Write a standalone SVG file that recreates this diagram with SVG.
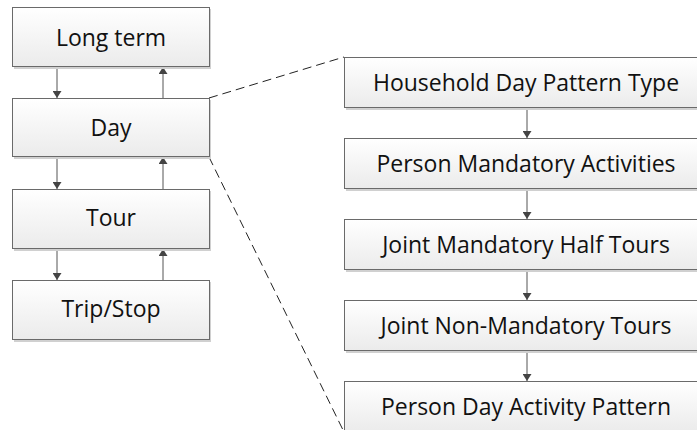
<svg xmlns="http://www.w3.org/2000/svg" width="697" height="430" viewBox="0 0 697 430">
<defs>
<linearGradient id="g" x1="0" y1="0" x2="0" y2="1">
<stop offset="0" stop-color="#ffffff"/>
<stop offset="1" stop-color="#ebebeb"/>
</linearGradient>
<marker id="ah" markerWidth="7" markerHeight="9" refX="7" refY="4.5" orient="auto" markerUnits="userSpaceOnUse" viewBox="0 0 7 9">
<path d="M0,0 L7,4.5 L0,9 Z" fill="#444"/>
</marker>
</defs>
<style>
.box{fill:url(#g);stroke:#6a6a6a;stroke-width:1}
.sh{fill:#d0d0d0}
.t{font-family:"Open Sans","Liberation Sans",sans-serif;font-size:23px;fill:#111;text-anchor:middle}
.a{stroke:#555;stroke-width:1;fill:none;marker-end:url(#ah)}
.d{stroke:#222;stroke-width:1;fill:none;stroke-dasharray:9 5}
</style>
<g id="connectors">
<line class="a" x1="57" y1="67" x2="57" y2="98"/>
<line class="a" x1="163" y1="98" x2="163" y2="67"/>
<line class="a" x1="57" y1="157" x2="57" y2="189"/>
<line class="a" x1="163" y1="189" x2="163" y2="157"/>
<line class="a" x1="57" y1="249" x2="57" y2="280"/>
<line class="a" x1="163" y1="280" x2="163" y2="249"/>
<line class="a" x1="527" y1="108" x2="527" y2="138"/>
<line class="a" x1="527" y1="189" x2="527" y2="219"/>
<line class="a" x1="527" y1="270" x2="527" y2="300"/>
<line class="a" x1="527" y1="351" x2="527" y2="381"/>
<line class="d" x1="209" y1="98" x2="344" y2="57"/>
<line class="d" x1="209" y1="157" x2="344" y2="432"/>
</g>
<g id="long-term"><rect class="sh" x="14" y="9" width="197" height="60"/><rect class="box" x="12.5" y="7.5" width="197" height="59"/><text class="t" x="111" y="46">Long term</text></g>
<g id="day"><rect class="sh" x="14" y="100" width="197" height="59"/><rect class="box" x="12.5" y="98.5" width="197" height="58"/><text class="t" x="111" y="136">Day</text></g>
<g id="tour"><rect class="sh" x="14" y="191" width="197" height="60"/><rect class="box" x="12.5" y="189.5" width="197" height="59"/><text class="t" x="111" y="226">Tour</text></g>
<g id="trip-stop"><rect class="sh" x="14" y="282" width="197" height="60"/><rect class="box" x="12.5" y="280.5" width="197" height="59"/><text class="t" x="111" y="317">Trip/Stop</text></g>
<g id="hdpt"><rect class="sh" x="346" y="59" width="370" height="51"/><rect class="box" x="344.5" y="57.5" width="370" height="50"/><text class="t" x="526" y="91">Household Day Pattern Type</text></g>
<g id="pma"><rect class="sh" x="346" y="140" width="370" height="51"/><rect class="box" x="344.5" y="138.5" width="370" height="50"/><text class="t" x="526" y="172">Person Mandatory Activities</text></g>
<g id="jmht"><rect class="sh" x="346" y="221" width="370" height="51"/><rect class="box" x="344.5" y="219.5" width="370" height="50"/><text class="t" x="526" y="253">Joint Mandatory Half Tours</text></g>
<g id="jnmt"><rect class="sh" x="346" y="302" width="370" height="51"/><rect class="box" x="344.5" y="300.5" width="370" height="50"/><text class="t" x="526" y="334">Joint Non-Mandatory Tours</text></g>
<g id="pdap"><rect class="sh" x="346" y="383" width="370" height="51"/><rect class="box" x="344.5" y="381.5" width="370" height="50"/><text class="t" x="526" y="415">Person Day Activity Pattern</text></g>
</svg>
